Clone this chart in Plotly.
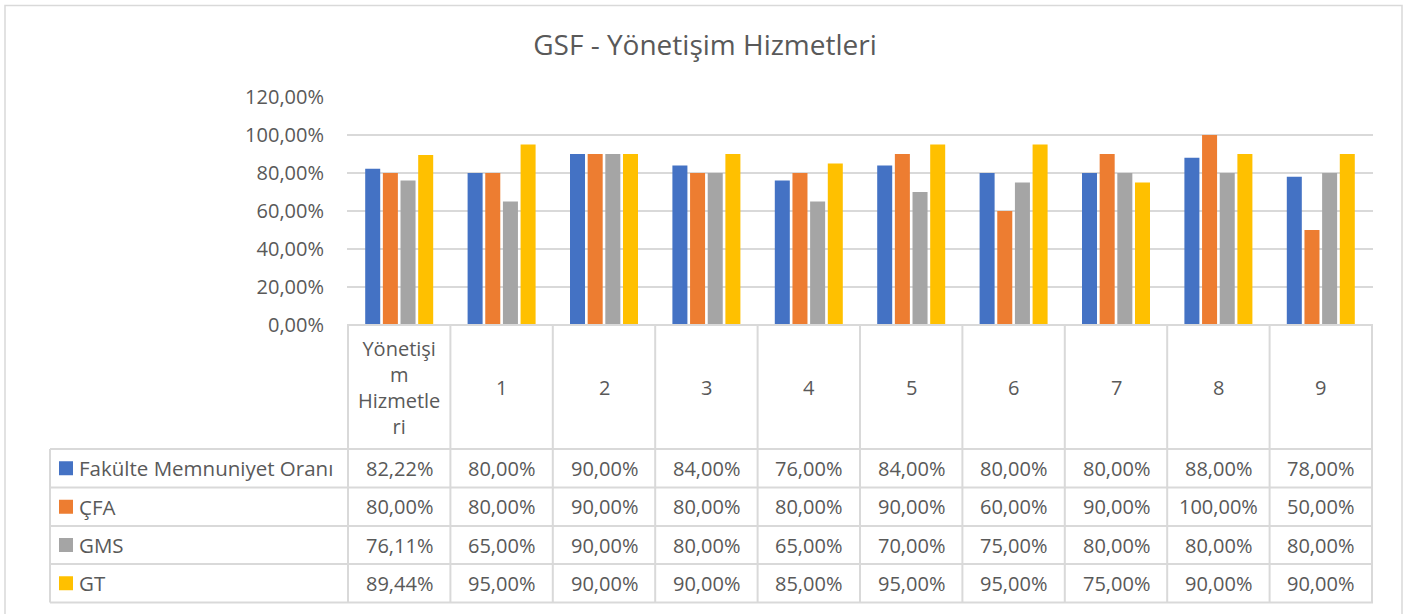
import plotly.graph_objects as go

# Survey results, in percent
categories = ["Yönetişim Hizmetleri", "1", "2", "3", "4", "5", "6", "7", "8", "9"]
header_labels = ["Yönetişi<br>m<br>Hizmetle<br>ri", "1", "2", "3", "4", "5", "6", "7", "8", "9"]

series_names = ["Fakülte Memnuniyet Oranı", "ÇFA", "GMS", "GT"]
fakulte = [82.22, 80.00, 90.00, 84.00, 76.00, 84.00, 80.00, 80.00, 88.00, 78.00]
cfa = [80.00, 80.00, 90.00, 80.00, 80.00, 90.00, 60.00, 90.00, 100.00, 50.00]
gms = [76.11, 65.00, 90.00, 80.00, 65.00, 70.00, 75.00, 80.00, 80.00, 80.00]
gt = [89.44, 95.00, 90.00, 90.00, 85.00, 95.00, 95.00, 75.00, 90.00, 90.00]

y_ticks = [0, 20, 40, 60, 80, 100, 120]

series_values = [fakulte, cfa, gms, gt]
colors = ["#4472C4", "#ED7D31", "#A5A5A5", "#FFC000"]

W, H = 1410, 614
ML, MR, MT, MB = 347, 37, 97, 289
PW = W - ML - MR
PH = H - MT - MB
TEXT = "#595959"
LINE = "#D9D9D9"
FONT = "Open Sans"


def px_x(x):
    return (x - ML) / PW


def px_y(y):
    return (H - MB - y) / PH


def pct(v):
    return f"{v:.2f}".replace(".", ",") + "%"


fig = go.Figure()
for name, vals, col in zip(series_names, series_values, colors):
    fig.add_trace(go.Bar(x=categories, y=vals, name=name, marker_color=col,
                         marker_line_width=0, showlegend=False))

shapes = []
annotations = []

# data table geometry (pixels)
header_top = H - MB
header_bottom = 449
row_edges = [449, 487.5, 526, 564, 602.5]
label_left = 50

# horizontal table lines
shapes.append(dict(type="line", xref="paper", yref="paper",
                   x0=0, x1=1, y0=px_y(header_top), y1=px_y(header_top),
                   line=dict(color=LINE, width=2)))
for ye in row_edges:
    shapes.append(dict(type="line", xref="paper", yref="paper",
                       x0=px_x(label_left), x1=1, y0=px_y(ye), y1=px_y(ye),
                       line=dict(color=LINE, width=2)))
# vertical table lines
shapes.append(dict(type="line", xref="paper", yref="paper",
                   x0=px_x(label_left), x1=px_x(label_left),
                   y0=px_y(row_edges[0]), y1=px_y(row_edges[-1]),
                   line=dict(color=LINE, width=2)))
for i in range(len(categories) + 1):
    shapes.append(dict(type="line", xref="x", yref="paper",
                       x0=i - 0.5, x1=i - 0.5,
                       y0=px_y(header_top), y1=px_y(row_edges[-1]),
                       line=dict(color=LINE, width=2)))

# header labels
for cat, lab in zip(categories, header_labels):
    annotations.append(dict(x=cat, xref="x", y=px_y((header_top + header_bottom) / 2),
                            yref="paper", text=lab, showarrow=False,
                            font=dict(family=FONT, size=20, color=TEXT),
                            xanchor="center", yanchor="middle"))

# table rows: legend key, series name, values
for r, (name, vals, col) in enumerate(zip(series_names, series_values, colors)):
    yc = (row_edges[r] + row_edges[r + 1]) / 2
    shapes.append(dict(type="rect", xref="paper", yref="paper",
                       x0=px_x(59), x1=px_x(73), y0=px_y(yc - 7), y1=px_y(yc + 7),
                       fillcolor=col, line=dict(width=0)))
    annotations.append(dict(x=px_x(77), xref="paper", y=px_y(yc), yref="paper",
                            text=name, showarrow=False, xanchor="left", yanchor="middle",
                            font=dict(family=FONT, size=20.5, color=TEXT)))
    for cat, v in zip(categories, vals):
        annotations.append(dict(x=cat, xref="x", y=px_y(yc), yref="paper",
                                text=pct(v), showarrow=False,
                                xanchor="center", yanchor="middle",
                                font=dict(family=FONT, size=20, color=TEXT)))

# chart border
shapes.append(dict(type="rect", xref="paper", yref="paper",
                   x0=px_x(5), x1=px_x(1402), y0=px_y(618), y1=px_y(5.5),
                   line=dict(color=LINE, width=1.5), fillcolor="rgba(0,0,0,0)",
                   layer="below"))

fig.update_layout(
    width=W, height=H,
    margin=dict(l=ML, r=MR, t=MT, b=MB),
    paper_bgcolor="white", plot_bgcolor="white",
    separators=",.",
    barmode="group", bargap=0.31, bargroupgap=0.15,
    title=dict(text="GSF - Yönetişim Hizmetleri", x=0.5, xanchor="center",
               y=1 - 45 / H, yanchor="middle",
               font=dict(family=FONT, size=28, color=TEXT)),
    xaxis=dict(showticklabels=False, showgrid=False, zeroline=False,
               showline=False, ticks=""),
    yaxis=dict(range=[0, 120], tickmode="array", tickvals=y_ticks,
               ticktext=[pct(t) for t in y_ticks],
               showgrid=True, gridcolor=LINE, gridwidth=2, zeroline=False,
               showline=False, ticks="", ticklabelstandoff=22,
               tickfont=dict(family=FONT, size=20, color=TEXT)),
    shapes=shapes, annotations=annotations,
    font=dict(family=FONT, color=TEXT),
)

fig.write_html("out.html")
